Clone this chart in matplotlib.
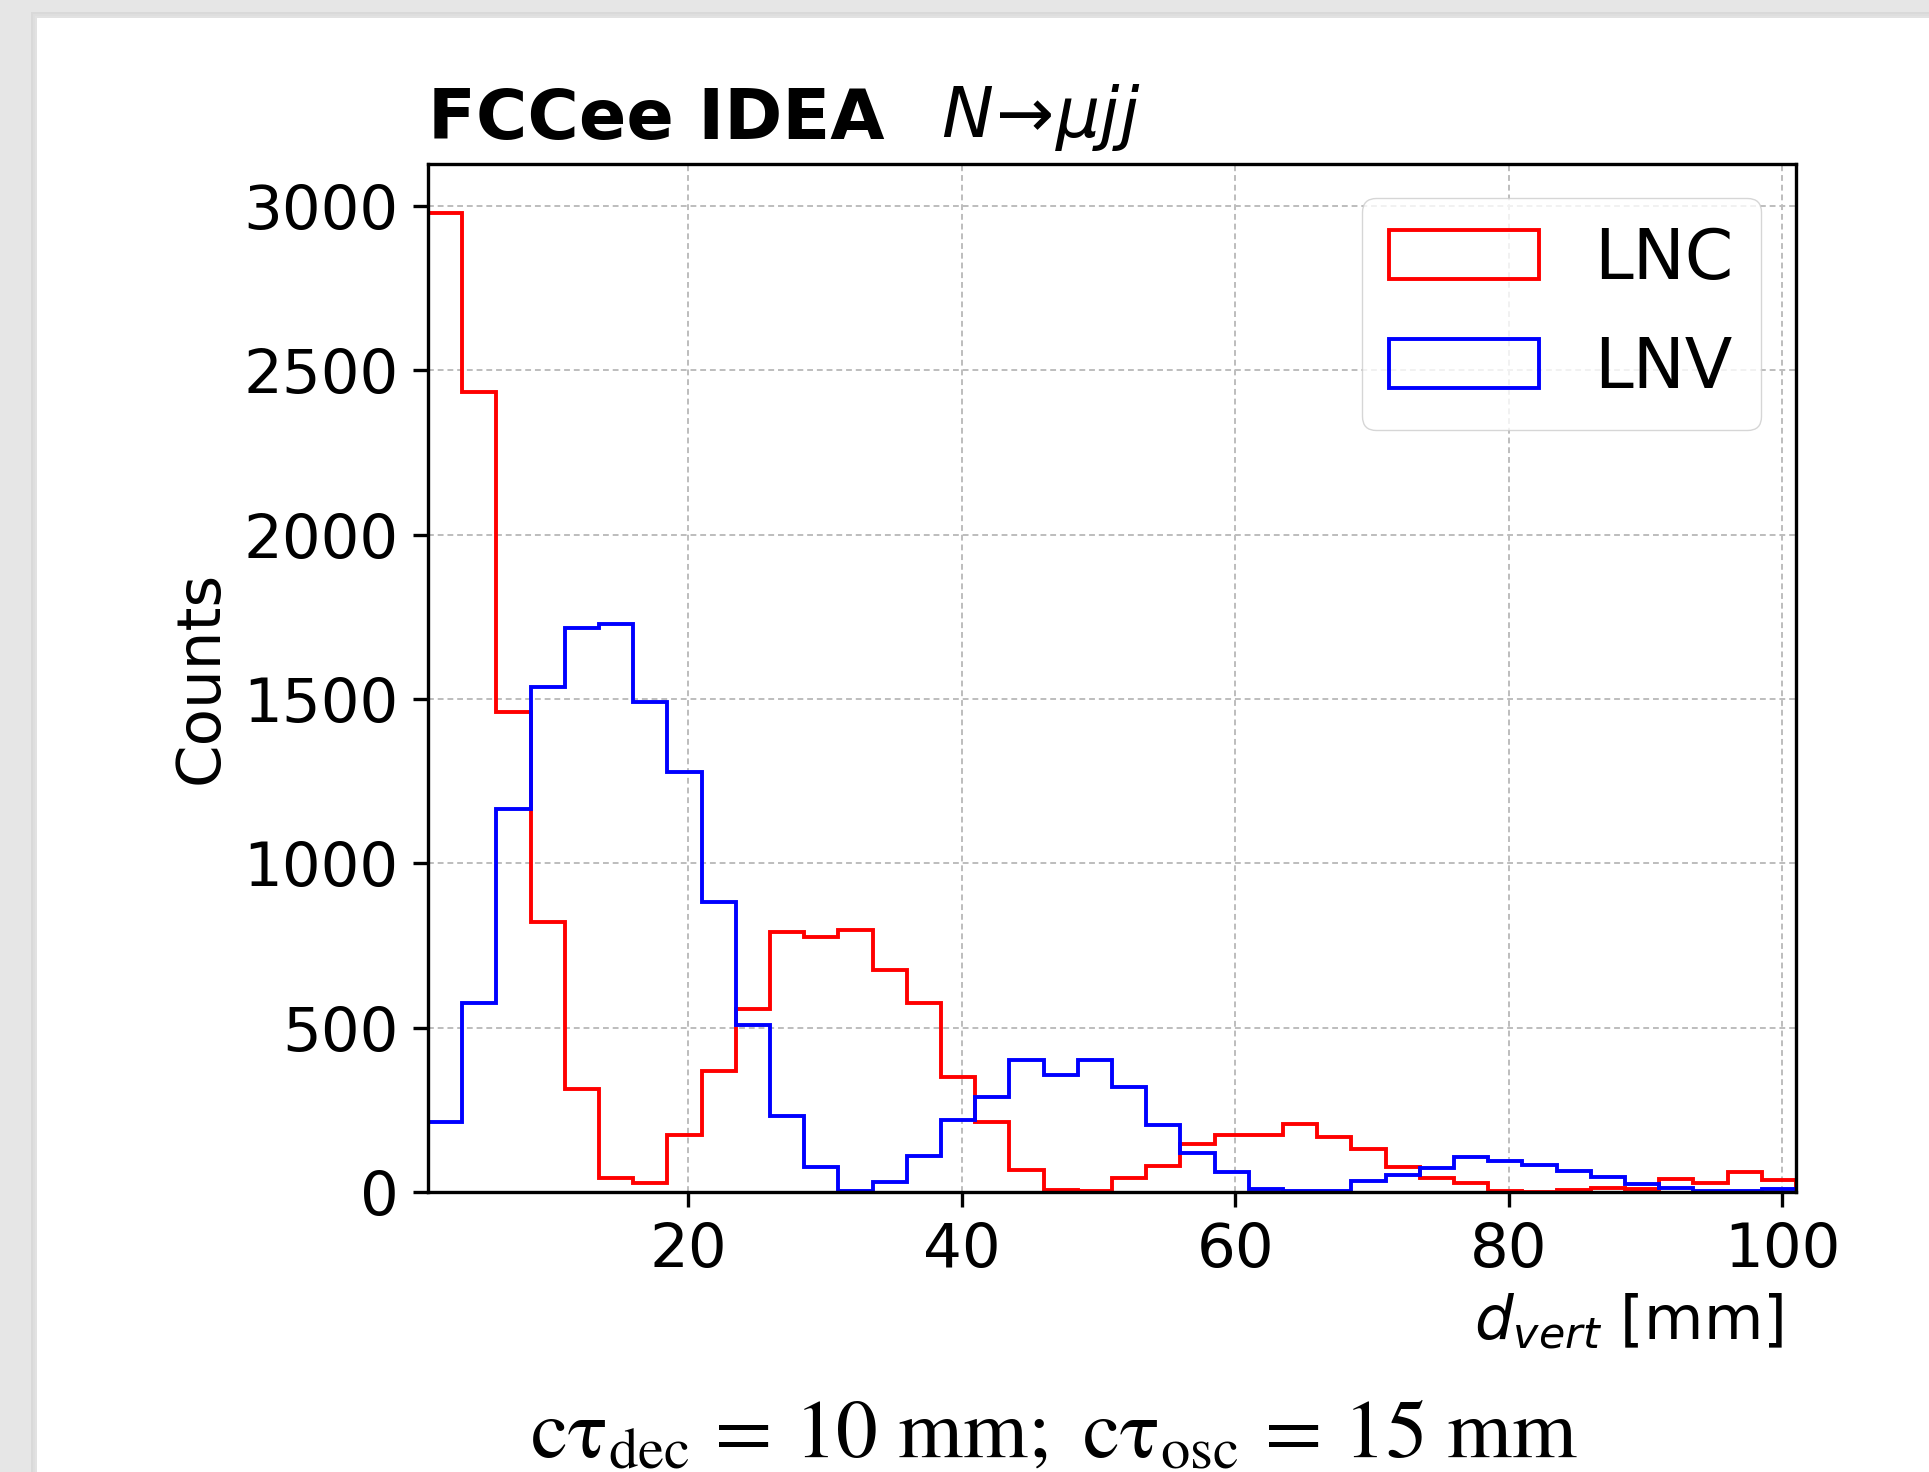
import numpy as np
import matplotlib
matplotlib.use("Agg")
import matplotlib.pyplot as plt
from matplotlib.patches import Rectangle

# Decay-vertex distance histogram, 2.5 mm bins from 1 to 101 mm
bin_edges = [1.0 + 2.5 * k for k in range(41)]

lnc_counts = [2980, 2435, 1460, 822, 313, 44, 28, 172, 368, 556,
              792, 776, 798, 676, 576, 349, 214, 68, 7, 3,
              43, 78, 145, 174, 173, 207, 166, 130, 75, 43,
              26, 3, 1, 7, 12, 10, 40, 28, 60, 36]

lnv_counts = [212, 576, 1166, 1535, 1717, 1727, 1491, 1277, 883, 509,
              232, 77, 3, 30, 109, 218, 288, 402, 357, 402,
              320, 205, 120, 62, 8, 3, 3, 34, 51, 73,
              105, 94, 83, 63, 46, 25, 12, 2, 2, 10]

series_labels = ["LNC", "LNV"]
series_colors = ["red", "blue"]

x_ticks = [20, 40, 60, 80, 100]
y_ticks = [0, 500, 1000, 1500, 2000, 2500, 3000]

plt.rcParams.update({
    "font.family": "DejaVu Sans",
    "mathtext.fontset": "dejavusans",
    "font.size": 44,
    "axes.linewidth": 2.4,
    "xtick.major.size": 10.5,
    "ytick.major.size": 10.5,
    "xtick.major.width": 2.4,
    "ytick.major.width": 2.4,
    "xtick.major.pad": 10.5,
    "ytick.major.pad": 10.5,
})

W, H = 1929, 1472
fig = plt.figure(figsize=(W / 100, H / 100), dpi=100, facecolor="#e6e6e6")

# white card with a soft edge shadow, kept behind the axes
card_x0, card_y0 = 37 / W, 1 - 18 / H
for i, c in enumerate(["#d9d9d9", "#dedede", "#e2e2e2"]):
    off = (3 - i) * 2
    fig.patches.append(Rectangle((card_x0 - off / W, 0), 1, card_y0 + off / H,
                                 transform=fig.transFigure, facecolor=c,
                                 edgecolor="none", zorder=-10 + i))
fig.patches.append(Rectangle((card_x0, 0), 1, card_y0, transform=fig.transFigure,
                             facecolor="white", edgecolor="none", zorder=-5))

ax = fig.add_axes([428 / W, 1 - 1192 / H, (1796 - 428) / W, (1192 - 163.6) / H])
ax.set_facecolor("white")

centers = [(a + b) / 2 for a, b in zip(bin_edges[:-1], bin_edges[1:])]
for counts, lab, col in zip([lnc_counts, lnv_counts], series_labels, series_colors):
    ax.hist(centers, bins=bin_edges, weights=counts, histtype="step",
            color=col, linewidth=2.8, label=lab)

ax.set_xlim(bin_edges[0], bin_edges[-1])
ax.set_ylim(0, max(lnc_counts + lnv_counts) * 1.05)
ax.set_xticks(x_ticks)
ax.set_yticks(y_ticks)
ax.grid(True, color="#bdbdbd", linestyle=(0, (3, 2)), linewidth=1.4)
ax.set_axisbelow(True)

ax.set_ylabel("Counts", labelpad=9)
ax.set_xlabel(r"$d_{vert}$ [mm]")
ax.xaxis.set_label_coords(0.991, -0.098)
ax.xaxis.label.set_horizontalalignment("right")

ax.legend(loc="upper right", fontsize=50, handlelength=2.15, labelspacing=0.6)

ax.text(0.0, 1.01, "FCCee IDEA", transform=ax.transAxes, fontsize=50.5,
        fontweight="bold", ha="left", va="bottom")
ax.text(0.375, 1.01, r"$N\!\rightarrow\!\mu jj$", transform=ax.transAxes,
        fontsize=50, ha="left", va="bottom")

fig.text(1054 / W, 1 - 1457 / H,
         r"$\mathrm{c\tau_{dec}}\,=\,10\ \mathrm{mm;}\ \mathrm{c\tau_{osc}}\,=\,15\ \mathrm{mm}$",
         math_fontfamily="stix", fontsize=60, ha="center", va="baseline")

fig.savefig("out.png", dpi=100, facecolor=fig.get_facecolor())
